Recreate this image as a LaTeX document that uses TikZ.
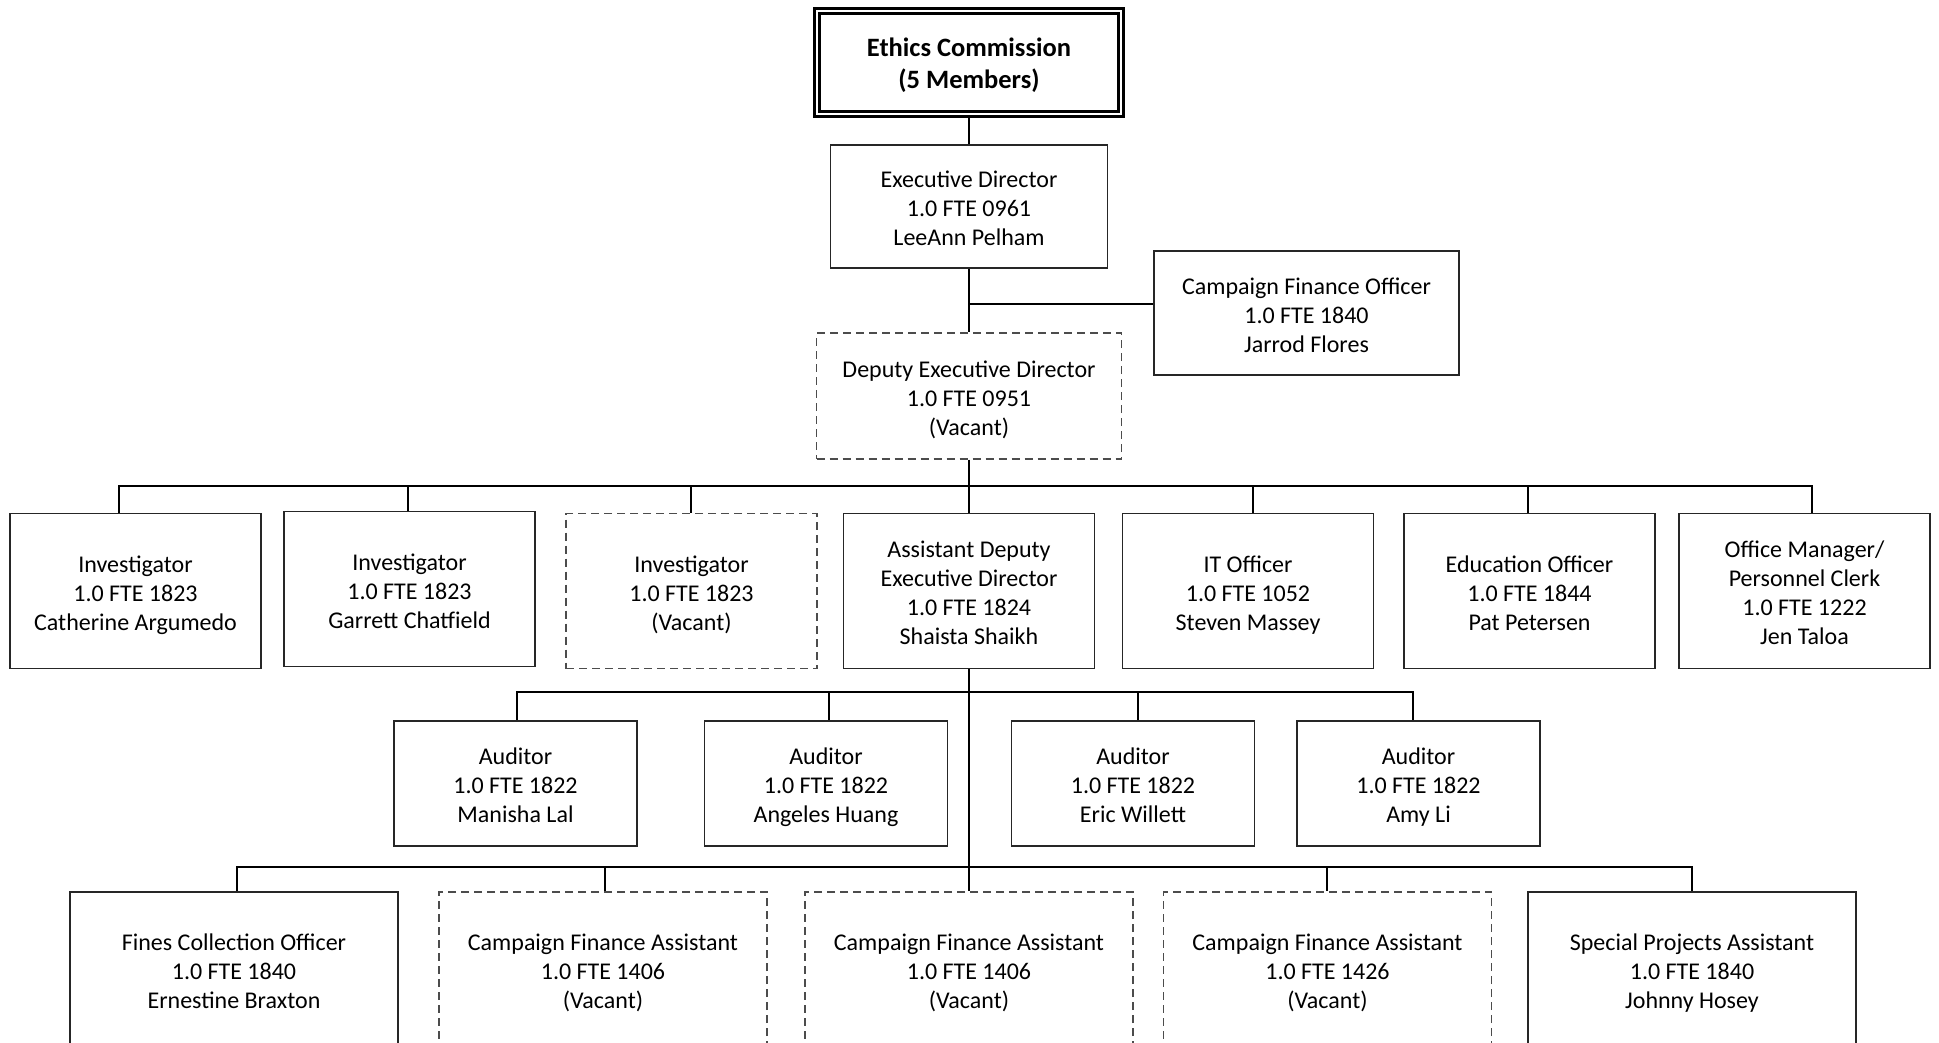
\documentclass[tikz,border=0pt]{standalone}
\usepackage{fontspec}
\setmainfont{Carlito}
\newcommand\boxstrut{\rule[-8pt]{0pt}{36pt}}
\begin{document}
\begin{tikzpicture}[x=1pt,y=-1pt]
\tikzset{
  conn/.style={line width=2.6pt, black, line join=miter},
  postbox/.style={draw=black!85, line width=1.6pt, align=center, inner sep=0pt, fill=white,
    font=\fontsize{24}{29}\selectfont, execute at end node=\boxstrut},
  vacbox/.style={postbox, draw=black!70, line width=1.4pt, dash pattern=on 8pt off 5pt},
  headbox/.style={draw=black, line width=2.6pt, double=white, double distance=2.6pt, align=center,
    inner sep=0pt, font=\fontsize{26.5}{32}\selectfont\bfseries, execute at end node=\boxstrut}
}
\clip (0,0) rectangle (1939,1042);
\fill[white] (0,0) rectangle (1939,1042);

% level 0/1
\node[headbox, minimum width=304pt, minimum height=103pt] (eth) at (969,62.5) {\boxstrut Ethics Commission\\(5 Members)};
\node[postbox, minimum width=277pt, minimum height=123pt] (ed) at (969,206.5) {\boxstrut Executive Director\\1.0 FTE 0961\\LeeAnn Pelham};
\node[postbox, minimum width=305pt, minimum height=124pt] (cfo) at (1306.5,313) {\boxstrut Campaign Finance Officer\\1.0 FTE 1840\\Jarrod Flores};
\node[vacbox, minimum width=305pt, minimum height=126pt] (dep) at (969,396) {\boxstrut Deputy Executive Director\\1.0 FTE 0951\\(Vacant)};

% level 2
\tikzset{lvtwo/.style={minimum width=251pt, minimum height=155pt}}
\node[postbox, lvtwo] (inv1) at (135.5,591) {\boxstrut Investigator\\1.0 FTE 1823\\Catherine Argumedo};
\node[postbox, lvtwo] (inv2) at (409.5,589) {\boxstrut Investigator\\1.0 FTE 1823\\Garrett Chatfield};
\node[vacbox, lvtwo] (inv3) at (691.5,591) {\boxstrut Investigator\\1.0 FTE 1823\\(Vacant)};
\node[postbox, lvtwo] (adep) at (969,591) {\boxstrut Assistant Deputy\\Executive Director\\1.0 FTE 1824\\Shaista Shaikh};
\node[postbox, lvtwo] (it) at (1248,591) {\boxstrut IT Officer\\1.0 FTE 1052\\Steven Massey};
\node[postbox, lvtwo] (edu) at (1529.5,591) {\boxstrut Education Officer\\1.0 FTE 1844\\Pat Petersen};
\node[postbox, lvtwo] (off) at (1804.5,591) {\boxstrut Office Manager/\\Personnel Clerk\\1.0 FTE 1222\\Jen Taloa};

% level 3
\tikzset{lvthree/.style={minimum width=243pt, minimum height=125pt}}
\node[postbox, lvthree] (a1) at (515.5,783.5) {\boxstrut Auditor\\1.0 FTE 1822\\Manisha Lal};
\node[postbox, lvthree] (a2) at (826,783.5) {\boxstrut Auditor\\1.0 FTE 1822\\Angeles Huang};
\node[postbox, lvthree] (a3) at (1133,783.5) {\boxstrut Auditor\\1.0 FTE 1822\\Eric Willett};
\node[postbox, lvthree] (a4) at (1418.5,783.5) {\boxstrut Auditor\\1.0 FTE 1822\\Amy Li};

% level 4 (boxes run past the lower edge, as in the reference)
\tikzset{lvfour/.style={minimum width=328pt, minimum height=154pt}}
\node[postbox, lvfour] (fco) at (234,969) {\boxstrut Fines Collection Officer\\1.0 FTE 1840\\Ernestine Braxton};
\node[vacbox, lvfour] (cfa1) at (603,969) {\boxstrut Campaign Finance Assistant\\1.0 FTE 1406\\(Vacant)};
\node[vacbox, lvfour] (cfa2) at (969,969) {\boxstrut Campaign Finance Assistant\\1.0 FTE 1406\\(Vacant)};
\node[vacbox, lvfour] (cfa3) at (1327.5,969) {\boxstrut Campaign Finance Assistant\\1.0 FTE 1426\\(Vacant)};
\node[postbox, lvfour] (spa) at (1692,969) {\boxstrut Special Projects Assistant\\1.0 FTE 1840\\Johnny Hosey};

% connectors
\draw[conn] (eth.south) -- (ed.north);
\draw[conn] (ed.south) -- (dep.north);
\coordinate (j1) at (969,304);
\draw[conn] (j1) -- (j1 -| cfo.west);

\coordinate (b2) at (969,486);
\draw[conn] (dep.south) -- (b2);
\draw[conn] (inv1.north -| 119,0) -- (119,486) -- (1812,486) -- (off.north -| 1812,0);
\draw[conn] (408,486) -- (inv2.north -| 408,0);
\draw[conn] (691,486) -- (inv3.north -| 691,0);
\draw[conn] (b2) -- (adep.north);
\draw[conn] (1253,486) -- (it.north -| 1253,0);
\draw[conn] (1528,486) -- (edu.north -| 1528,0);

\draw[conn] (adep.south) -- (cfa2.north);
\draw[conn] (a1.north -| 517,0) -- (517,692) -- (1413,692) -- (a4.north -| 1413,0);
\draw[conn] (829,692) -- (a2.north -| 829,0);
\draw[conn] (1138,692) -- (a3.north -| 1138,0);

\draw[conn] (fco.north -| 237,0) -- (237,867) -- (1692,867) -- (spa.north);
\draw[conn] (605,867) -- (cfa1.north -| 605,0);
\draw[conn] (1327,867) -- (cfa3.north -| 1327,0);
\end{tikzpicture}
\end{document}
